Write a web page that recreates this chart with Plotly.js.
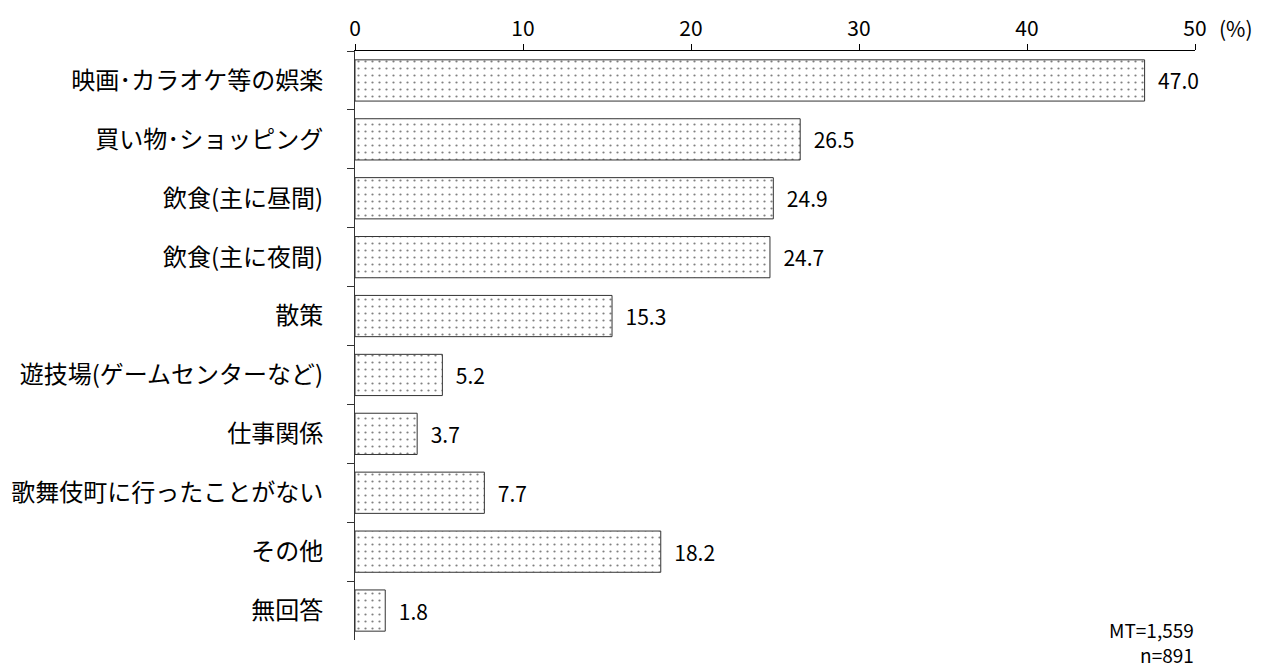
<!DOCTYPE html>
<html>
<head>
<meta charset="utf-8">
<script src="https://cdn.plot.ly/plotly-3.0.1.min.js"></script>
<style>html,body{margin:0;padding:0;background:#fff;}#chart{width:1268px;height:669px;}</style>
</head>
<body>
<div id="chart"></div>
<script>
const categories = ["映画･カラオケ等の娯楽","買い物･ショッピング","飲食(主に昼間)","飲食(主に夜間)","散策","遊技場(ゲームセンターなど)","仕事関係","歌舞伎町に行ったことがない","その他","無回答"];
const values = [47.0, 26.5, 24.9, 24.7, 15.3, 5.2, 3.7, 7.7, 18.2, 1.8];
const tickVals = [0, 10, 20, 30, 40, 50];
const unitLabel = "(%)";
const noteMT = "MT=1,559";
const noteN = "n=891";

const font = "'Noto Sans CJK JP', 'Noto Sans', sans-serif";

const trace = {
  type: "bar",
  orientation: "h",
  y: categories,
  x: values,
  texttemplate: "\u2002%{x:.1f}",
  textposition: "outside",
  cliponaxis: false,
  textfont: {family: font, size: 21, color: "#000"},
  marker: {
    color: "#ffffff",
    line: {color: "#333333", width: 1},
    pattern: {shape: ".", fgcolor: "#808080", bgcolor: "#ffffff", size: 7, solidity: 0.08}
  },
  hoverinfo: "skip"
};

const layout = {
  width: 1268, height: 669,
  margin: {l: 355, r: 73, t: 51, b: 29},
  paper_bgcolor: "#fff", plot_bgcolor: "#fff",
  showlegend: false,
  bargap: 0.3,
  font: {family: font, size: 20, color: "#000"},
  xaxis: {
    side: "top", range: [0, 50], tickvals: tickVals,
    showgrid: false, zeroline: false,
    showline: true, linecolor: "#000", linewidth: 1,
    ticks: "outside", ticklen: 6, tickcolor: "#000",
    tickfont: {family: font, size: 21, color: "#000"}
  },
  yaxis: {
    autorange: "reversed",
    showgrid: false, zeroline: false,
    showline: true, linecolor: "#333", linewidth: 1,
    ticks: "outside", ticklen: 7, tickcolor: "#333",
    tickson: "boundaries",
    ticklabelstandoff: 26,
    tickfont: {family: font, size: 24, color: "#000"}
  },
  annotations: [
    {text: unitLabel, xref: "paper", yref: "paper", x: 1, y: 1, xanchor: "left", yanchor: "bottom", xshift: 22, yshift: 6, showarrow: false, font: {family: font, size: 21}},
    {text: noteMT + "<br>" + noteN, xref: "paper", yref: "paper", x: 1, y: 0, xanchor: "right", yanchor: "bottom", align: "right", yshift: -29, xshift: 0, borderpad: 0, showarrow: false, font: {family: font, size: 19}}
  ]
};

Plotly.newPlot("chart", [trace], layout, {displayModeBar: false, staticPlot: true});
</script>
</body>
</html>
